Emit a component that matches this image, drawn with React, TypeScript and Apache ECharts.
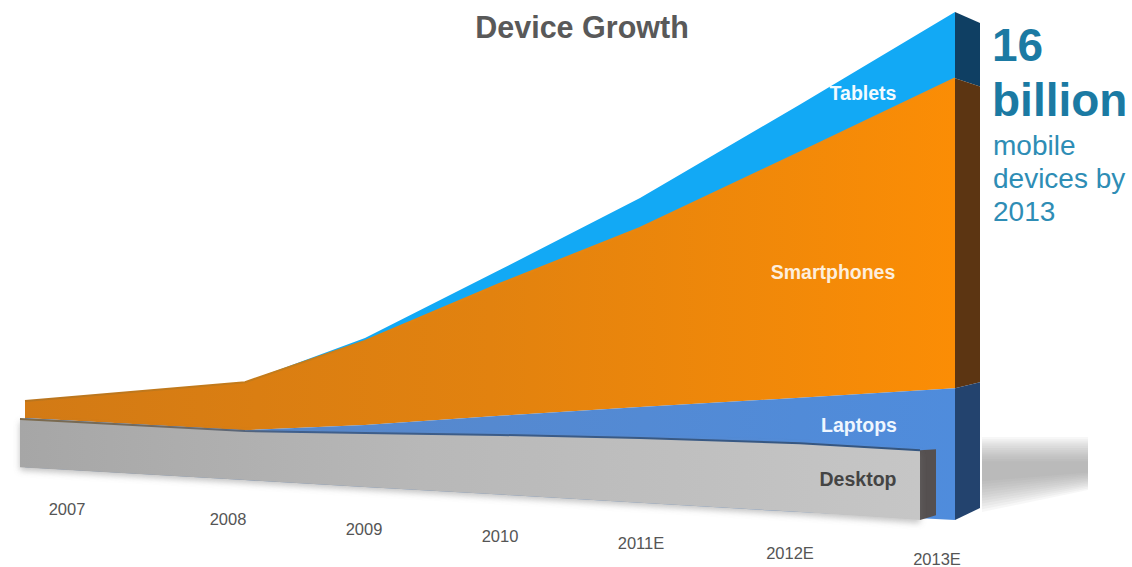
import React, { useEffect, useRef } from "react";
import * as echarts from "echarts";

// Horizontal position of each year on the receding perspective floor.
const yearPositions = [25, 245, 365, 500, 640, 800, 955];
const desktopPositions = [20, 245, 365, 500, 640, 800, 920];

// Device counts in billions, with the floor's perspective rise underneath them.
const floorRise = [1.66, 1.26, 1.04, 0.8, 0.54, 0.25, 0];
const desktop = [1.52, 1.54, 1.7, 1.88, 2.04, 2.17, 2.2];
const laptops = [0.03, 0.03, 0.25, 0.6, 0.98, 1.43, 1.95];
const smartphones = [0.54, 1.51, 2.65, 4.16, 5.64, 7.73, 9.76];
const tablets = [0, 0, 0.09, 0.44, 0.94, 1.51, 2.09];

const yearLabels = ["2007", "2008", "2009", "2010", "2011E", "2012E", "2013E"];
const yearLabelX = [67, 228, 364, 500, 641, 790, 937];
const yearLabelY = [509, 519, 529, 536, 543, 553, 559];

const bandLabels = ["Tablets", "Smartphones", "Laptops", "Desktop"];
const bandLabelX = [863, 833, 859, 858];
const bandLabelY = [93, 272, 425, 479];
const bandLabelColors = ["#f2fbff", "#fdeedd", "#eef6ff", "#444444"];

const sum = (a: number[], b: number[]) => a.map((v, i) => v + b[i]);
const desktopTop = sum(floorRise, desktop);
const laptopTop = sum(desktopTop, laptops);
const phoneTop = sum(laptopTop, smartphones);
const tabletTop = sum(phoneTop, tablets);

const horizontal = (stops: [number, string][]) =>
  new echarts.graphic.LinearGradient(0, 0, 1, 0, stops.map(([offset, color]) => ({ offset, color })));

// A stacked band, drawn once as a whole polygon from its lower and upper edges.
function band(name: string, xs: number[], lower: number[], upper: number[], fill: any, edge?: any, extra?: any) {
  return {
    type: "custom",
    name,
    silent: true,
    clip: false,
    encode: { x: 0, y: [1, 2] },
    data: xs.map((x, i) => [x, lower[i], upper[i]]),
    renderItem: (params: any, api: any) => {
      if (params.dataIndex !== 0) return null;
      const top = xs.map((x, i) => api.coord([x, upper[i]]));
      const bottom = xs.map((x, i) => api.coord([x, lower[i]])).reverse();
      const children: any[] = [
        { type: "polygon", shape: { points: [...top, ...bottom] }, style: { fill, ...extra } },
      ];
      if (edge) {
        children.push({
          type: "polyline",
          shape: { points: top },
          style: { stroke: edge, lineWidth: 2, fill: "none" },
        });
      }
      return { type: "group", children };
    },
  };
}

// The right-hand face of the 2013 wall: it narrows toward its far edge.
const wallDepth = 25;
const farEdge = (v: number) => 0.378 + 0.9546 * v;
const wallPieces = [
  { name: "Tablets side", low: phoneTop[6], high: tabletTop[6], color: "#0f3f63" },
  { name: "Smartphones side", low: laptopTop[6], high: phoneTop[6], color: "#5c3512" },
  { name: "Laptops side", low: floorRise[6], high: laptopTop[6], color: "#23436e" },
];

function wall(name: string, x: number, depth: number, low: number, high: number, lowFar: number, highFar: number, color: string) {
  return {
    type: "custom",
    name,
    silent: true,
    clip: false,
    encode: { x: 0, y: [1, 2] },
    data: [[x, low, high]],
    renderItem: (_: any, api: any) => ({
      type: "polygon",
      shape: {
        points: [
          api.coord([x, high]),
          api.coord([x + depth, highFar]),
          api.coord([x + depth, lowFar]),
          api.coord([x, low]),
        ],
      },
      style: { fill: color },
    }),
  };
}

const text = (t: string, x: number, y: number, font: string, fill: string, align = "left") => ({
  type: "text",
  z: 100,
  x,
  y,
  style: { text: t, font, fill, textAlign: align, textVerticalAlign: "middle" },
});

// Soft cast shadow beside the wall, built from nested translucent layers.
const shadowLayers = Array.from({ length: 12 }, (_, k) => ({
  type: "polygon",
  z: -2,
  shape: {
    points: [
      [982, 437 + k * 2.2],
      [1088, 437 + k * 2.2],
      [1088, 490 - k * 1.6],
      [982, 512 - k * 2.8],
    ],
  },
  style: { fill: "rgba(150,150,150,0.075)" },
}));

export default function App() {
  const ref = useRef<HTMLDivElement>(null);

  useEffect(() => {
    document.body.style.margin = "0";
    document.body.style.background = "#ffffff";
    const chart = echarts.init(ref.current!, undefined, { renderer: "svg" });
    const sans = '"Liberation Sans", Arial, sans-serif';
    chart.setOption({
      animation: false,
      backgroundColor: "#ffffff",
      grid: { left: 0, right: 0, top: 0, bottom: 0 },
      xAxis: { type: "value", min: 0, max: 1132, show: false },
      yAxis: { type: "value", min: -1.48, max: 16.378, show: false },
      series: [
        band("Tablets", yearPositions, phoneTop, tabletTop, "#12a9f5"),
        band(
          "Smartphones",
          yearPositions,
          laptopTop,
          phoneTop,
          horizontal([[0, "#d27a15"], [0.5, "#e2820f"], [1, "#fb8d05"]]),
          horizontal([[0, "#b9751f"], [0.3, "#c77c18"], [0.4, "#e2820f"], [1, "#f28d12"]]),
        ),
        band(
          "Laptops",
          yearPositions,
          floorRise,
          laptopTop,
          horizontal([[0, "#5b86c4"], [1, "#4f8cdc"]]),
        ),
        ...wallPieces.map((p) =>
          wall(p.name, yearPositions[6], wallDepth, p.low, p.high, farEdge(p.low), farEdge(p.high), p.color),
        ),
        wall("Desktop side", desktopPositions[6], 16, floorRise[6], desktopTop[6], 0.15, desktopTop[6] + 0.03, "#555050"),
        band(
          "Desktop",
          desktopPositions,
          floorRise,
          desktopTop,
          horizontal([[0, "#a6a6a6"], [0.45, "#b8b8b8"], [1, "#c6c6c6"]]),
          horizontal([[0, "#7d6a4a"], [0.2, "#6b6a6a"], [0.3, "#3f5f8c"], [1, "#34557f"]]),
          { shadowBlur: 6, shadowOffsetY: 3, shadowColor: "rgba(120,120,120,0.45)" },
        ),
      ],
      graphic: {
        elements: [
          ...shadowLayers,
          text("Device Growth", 582, 27, `bold 30.5px ${sans}`, "#595959", "center"),
          text("16", 992, 45, `bold 46px ${sans}`, "#1b7aa3"),
          text("billion", 992, 100, `bold 46px ${sans}`, "#1b7aa3"),
          text("mobile", 993, 145, `28px ${sans}`, "#2e8db5"),
          text("devices by", 993, 178, `28px ${sans}`, "#2e8db5"),
          text("2013", 993, 211, `28px ${sans}`, "#2e8db5"),
          ...yearLabels.map((t, i) => text(t, yearLabelX[i], yearLabelY[i], `16.5px ${sans}`, "#555555", "center")),
          ...bandLabels.map((t, i) => text(t, bandLabelX[i], bandLabelY[i], `bold 19.5px ${sans}`, bandLabelColors[i], "center")),
        ],
      },
    });
    return () => chart.dispose();
  }, []);

  return <div ref={ref} style={{ width: 1132, height: 567 }} />;
}
